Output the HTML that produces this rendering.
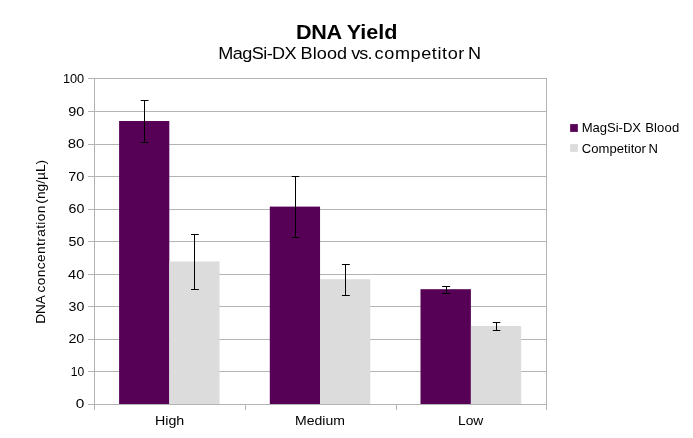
<!DOCTYPE html>
<html lang="en">
<head>
<meta charset="utf-8">
<title>DNA Yield - MagSi-DX Blood vs. competitor N</title>
<style>
  html, body { margin: 0; padding: 0; background: #ffffff; }
  body { width: 693px; height: 438px; overflow: hidden; position: relative; font-family: "Liberation Sans", sans-serif; color: #000; }
  svg { position: absolute; left: 0; top: 0; display: block; }
  text { font-family: "Liberation Sans", sans-serif; fill: #000000; }
  .grid line { stroke: #b3b3b3; stroke-width: 1; shape-rendering: crispEdges; }
  .err line { stroke: #000000; stroke-width: 1; shape-rendering: crispEdges; }
  .err rect { fill: #000000; }
</style>
</head>
<body>
<svg width="693" height="438" viewBox="0 0 693 438">
  <rect x="0" y="0" width="693" height="438" fill="#ffffff"/>

  <!-- chart title and subtitle -->
  <text transform="translate(0 39) scale(1.07 1)" font-size="20.2" font-weight="bold"><tspan x="276.57" letter-spacing="-0.268">DNA </tspan><tspan x="324.02" letter-spacing="-0.012">Yield</tspan></text>
  <text transform="translate(0 59.0) scale(1.04 1)" font-size="17.4"><tspan x="209.97" letter-spacing="-0.577">MagSi-DX </tspan><tspan x="288.91" letter-spacing="0.101">Blood </tspan><tspan x="337.66" letter-spacing="-0.827">vs. </tspan><tspan x="360.21" letter-spacing="0.563">competitor </tspan><tspan x="450.07">N</tspan></text>
  <!-- horizontal grid lines with y-axis tick marks -->
  <g class="grid">
    <line x1="88" y1="78.5" x2="546" y2="78.5"/>
    <line x1="88" y1="111.5" x2="546" y2="111.5"/>
    <line x1="88" y1="144.5" x2="546" y2="144.5"/>
    <line x1="88" y1="176.5" x2="546" y2="176.5"/>
    <line x1="88" y1="209.5" x2="546" y2="209.5"/>
    <line x1="88" y1="241.5" x2="546" y2="241.5"/>
    <line x1="88" y1="274.5" x2="546" y2="274.5"/>
    <line x1="88" y1="306.5" x2="546" y2="306.5"/>
    <line x1="88" y1="339.5" x2="546" y2="339.5"/>
    <line x1="88" y1="371.5" x2="546" y2="371.5"/>
  </g>
  <!-- bars -->
  <g>
    <rect x="119.1" y="121.0" width="50.20" height="283.5" fill="#560056"/>
    <rect x="169.3" y="261.5" width="50.20" height="143.0" fill="#dcdcdc"/>
    <rect x="269.8" y="206.6" width="50.25" height="197.9" fill="#560056"/>
    <rect x="320.05" y="279.2" width="50.25" height="125.3" fill="#dcdcdc"/>
    <rect x="420.5" y="289.2" width="50.40" height="115.3" fill="#560056"/>
    <rect x="470.9" y="326.0" width="50.30" height="78.5" fill="#dcdcdc"/>
  </g>
  <!-- axes -->
  <g class="grid">
    <line x1="88" y1="404.5" x2="547" y2="404.5"/>
    <line x1="94.5" y1="78" x2="94.5" y2="410"/>
    <line x1="546.5" y1="78" x2="546.5" y2="410"/>
    <line x1="245.5" y1="404" x2="245.5" y2="410"/>
    <line x1="396.5" y1="404" x2="396.5" y2="410"/>
  </g>
  <!-- error bars -->
  <g class="err">
    <line x1="144.5" y1="100" x2="144.5" y2="143"/>
    <rect x="140.7" y="100" width="7.8" height="1"/>
    <rect x="140.7" y="142" width="7.8" height="1"/>
    <line x1="194.5" y1="234" x2="194.5" y2="290"/>
    <rect x="191.0" y="234" width="7.8" height="1"/>
    <rect x="191.0" y="289" width="7.8" height="1"/>
    <line x1="295.5" y1="176" x2="295.5" y2="238"/>
    <rect x="291.7" y="176" width="7.5" height="1"/>
    <rect x="291.7" y="237" width="7.5" height="1"/>
    <line x1="345.5" y1="264" x2="345.5" y2="296"/>
    <rect x="341.9" y="264" width="7.9" height="1"/>
    <rect x="341.9" y="295" width="7.9" height="1"/>
    <line x1="446.5" y1="286" x2="446.5" y2="294"/>
    <rect x="442.1" y="286" width="8.0" height="1"/>
    <rect x="442.1" y="293" width="8.0" height="1"/>
    <line x1="496.5" y1="322" x2="496.5" y2="331"/>
    <rect x="492.8" y="322" width="7.5" height="1"/>
    <rect x="492.8" y="330" width="7.5" height="1"/>
  </g>
  <!-- y-axis tick labels -->
  <g>
    <text transform="translate(62.92 83) scale(0.9839 1)" font-size="13">100</text>
    <text transform="translate(68.31 116) scale(1.1094 1)" font-size="13">90</text>
    <text transform="translate(67.78 148) scale(1.1472 1)" font-size="13">80</text>
    <text transform="translate(68.20 181) scale(1.1170 1)" font-size="13">70</text>
    <text transform="translate(68.52 213) scale(1.0943 1)" font-size="13">60</text>
    <text transform="translate(68.55 246) scale(1.0916 1)" font-size="13">50</text>
    <text transform="translate(68.12 279) scale(1.1229 1)" font-size="13">40</text>
    <text transform="translate(68.55 311) scale(1.0916 1)" font-size="13">30</text>
    <text transform="translate(68.41 343) scale(1.1019 1)" font-size="13">20</text>
    <text transform="translate(70.77 376) scale(0.9320 1)" font-size="13">10</text>
    <text transform="translate(75.71 408) scale(1.1840 1)" font-size="13">0</text>
  </g>
  <!-- category labels -->
  <g>
    <text transform="translate(154.97 425) scale(1.0949 1)" font-size="13">High</text>
    <text transform="translate(294.98 425) scale(1.0802 1)" font-size="13">Medium</text>
    <text transform="translate(458.00 425) scale(1.0637 1)" font-size="13">Low</text>
  </g>
  <!-- y-axis title -->
  <text transform="translate(45.2 0) rotate(-90) scale(1.05 1)" font-size="13"><tspan x="-308.46" letter-spacing="-0.077">DNA </tspan><tspan x="-278.50" letter-spacing="0.390">concentration </tspan><tspan x="-193.99" letter-spacing="0.053">(ng/µL)</tspan></text>
  <!-- legend -->
  <rect x="570.15" y="124.1" width="7.7" height="7.8" fill="#560056"/>
  <text transform="translate(0 132) scale(1.03 1)" font-size="12.7"><tspan x="564.83" letter-spacing="-0.041">MagSi-DX </tspan><tspan x="626.38" letter-spacing="0.159">Blood</tspan></text>
  <rect x="570.15" y="144.1" width="7.7" height="7.8" fill="#dcdcdc"/>
  <text transform="translate(0 153) scale(1.03 1)" font-size="12.7"><tspan x="564.91" letter-spacing="0.023">Competitor </tspan><tspan x="629.58">N</tspan></text>
</svg>
</body>
</html>
